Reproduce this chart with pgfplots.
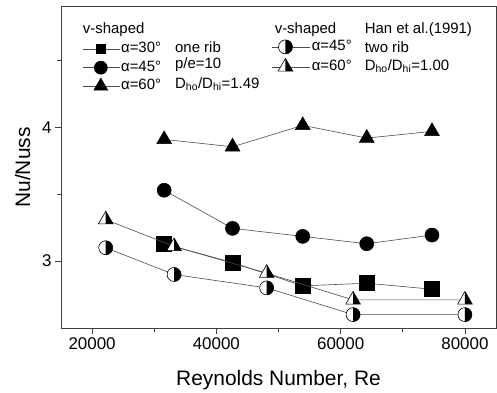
\documentclass[border=0pt]{standalone}
\usepackage{pgfplots}
\pgfplotsset{compat=1.18}
\usepackage{fontspec}
\setmainfont{Liberation Sans}

\pgfdeclareplotmark{halfcircleR}{%
  \begin{pgfscope}\pgfsetfillcolor{white}%
  \pgfpathcircle{\pgfpointorigin}{\pgfplotmarksize}\pgfusepathqfill
  \end{pgfscope}%
  \pgfpathmoveto{\pgfqpoint{0pt}{\pgfplotmarksize}}%
  \pgfpatharc{90}{-90}{\pgfplotmarksize}%
  \pgfpathclose\pgfusepathqfill
  \pgfpathcircle{\pgfpointorigin}{\pgfplotmarksize}\pgfusepathqstroke
}
\pgfdeclareplotmark{halftriangleR}{%
  \begin{pgfscope}\pgfsetfillcolor{white}%
  \pgfpathmoveto{\pgfqpoint{0pt}{\pgfplotmarksize}}%
  \pgfpathlineto{\pgfqpointpolar{210}{\pgfplotmarksize}}%
  \pgfpathlineto{\pgfqpointpolar{330}{\pgfplotmarksize}}%
  \pgfpathclose\pgfusepathqfill
  \end{pgfscope}%
  \pgfpathmoveto{\pgfqpoint{0pt}{\pgfplotmarksize}}%
  \pgfpathlineto{\pgfqpoint{0pt}{-.5\pgfplotmarksize}}%
  \pgfpathlineto{\pgfqpointpolar{330}{\pgfplotmarksize}}%
  \pgfpathclose\pgfusepathqfill
  \pgfpathmoveto{\pgfqpoint{0pt}{\pgfplotmarksize}}%
  \pgfpathlineto{\pgfqpointpolar{210}{\pgfplotmarksize}}%
  \pgfpathlineto{\pgfqpointpolar{330}{\pgfplotmarksize}}%
  \pgfpathclose\pgfusepathqstroke
}

\pgfplotsset{
  common/.style={
    scale only axis, width=435bp, height=321bp,
    xmin=15000, xmax=85000, ymin=2.5, ymax=4.9,
  },
  dataline/.style={color=black!70, line width=0.6bp, mark options={draw=black, fill=black, solid}},
}

\begin{document}
\begin{tikzpicture}
\begin{axis}[common, name=main,
  xtick={20000,40000,60000,80000}, minor xtick={30000,50000,70000},
  ytick={3,4}, minor ytick={3.5,4.5},
  xtick pos=bottom, ytick pos=left, tick align=outside,
  major tick length=6bp, minor tick length=4bp,
  axis line style={line width=1bp, black!75},
  every tick/.style={black!75, line width=0.8bp},
  scaled x ticks=false,
  xticklabel style={/pgf/number format/1000 sep={}},
  /pgf/number format/assume math mode=true,
  tick label style={font=\fontsize{17}{20}\selectfont},
  label style={font=\fontsize{21}{24}\selectfont},
  xlabel={Reynolds Number, Re}, ylabel={Nu/Nuss},
  xlabel style={at={(axis description cs:0.5,-0.162)}, anchor=center},
  ylabel style={at={(axis description cs:-0.088,0.5)}, anchor=center},
  legend style={draw=none, fill=none, at={(rel axis cs:0.049,0.898)}, anchor=north west,
    font=\fontsize{15}{18}\selectfont, inner sep=0pt, row sep=0pt,
    nodes={inner sep=1bp, text height=12bp, text depth=4.5bp}},
  legend cell align=left,
  legend image code/.code={\draw[mark repeat=2,mark phase=2] plot coordinates {(0bp,0bp) (18bp,0bp) (37bp,0bp)};},
]
% one rib, alpha=30
\addplot[dataline, mark=square*, mark size=7.5bp, forget plot] coordinates {
  (31500,3.13) (42600,2.99) (53900,2.815) (64200,2.835) (74700,2.79)};
% one rib, alpha=45
\addplot[dataline, mark=*, mark size=7bp, forget plot] coordinates {
  (31600,3.53) (42600,3.245) (53900,3.185) (64200,3.13) (74700,3.195)};
% one rib, alpha=60
\addplot[dataline, mark=triangle*, mark size=8.5bp, forget plot] coordinates {
  (31600,3.91) (42600,3.855) (53900,4.015) (64200,3.92) (74700,3.97)};
\addlegendimage{black!70, line width=0.6bp, mark=square*, mark size=4.5bp, mark options={draw=black, fill=black}}
\addlegendentry{α=30°}
\addlegendimage{black!70, line width=0.6bp, mark=*, mark size=6.5bp, mark options={draw=black, fill=black}}
\addlegendentry{α=45°}
\addlegendimage{black!70, line width=0.6bp, mark=triangle*, mark size=8bp, mark options={draw=black, fill=black}}
\addlegendentry{α=60°}
\node[anchor=west, font=\fontsize{15}{18}\selectfont, inner sep=0pt] at (rel axis cs:0.050,0.931) {v-shaped};
\node[anchor=west, font=\fontsize{15}{18}\selectfont, inner sep=0pt] at (rel axis cs:0.262,0.875) {one rib};
\node[anchor=west, font=\fontsize{15}{18}\selectfont, inner sep=0pt] at (rel axis cs:0.262,0.819) {p/e=10};
\node[anchor=west, font=\fontsize{15}{18}\selectfont, inner sep=0pt] at (rel axis cs:0.262,0.760) {D\textsubscript{ho}/D\textsubscript{hi}=1.49};
\node[anchor=west, font=\fontsize{15}{18}\selectfont, inner sep=0pt] at (rel axis cs:0.491,0.931) {v-shaped};
\node[anchor=west, font=\fontsize{15}{18}\selectfont, inner sep=0pt] at (rel axis cs:0.698,0.931) {Han et al.(1991)};
\node[anchor=west, font=\fontsize{15}{18}\selectfont, inner sep=0pt] at (rel axis cs:0.698,0.875) {two rib};
\node[anchor=west, font=\fontsize{15}{18}\selectfont, inner sep=0pt] at (rel axis cs:0.698,0.816) {D\textsubscript{ho}/D\textsubscript{hi}=1.00};
\end{axis}
\begin{axis}[common, hide axis,
  legend style={draw=none, fill=none, at={(rel axis cs:0.485,0.9075)}, anchor=north west,
    font=\fontsize{15}{18}\selectfont, inner sep=0pt, row sep=0pt,
    nodes={inner sep=1bp, text height=12.5bp, text depth=5.5bp}},
  legend cell align=left,
  legend image code/.code={\draw[mark repeat=2,mark phase=2] plot coordinates {(0bp,0bp) (13bp,0bp) (25bp,0bp)};\path (25bp,0bp) -- (38bp,0bp);},
]
% Han et al. (1991), two rib, alpha=45
\addplot[dataline, mark=halfcircleR, mark size=7bp] coordinates {
  (22200,3.10) (33200,2.90) (48100,2.80) (62000,2.60) (80000,2.60)};
\addlegendentry{α=45°}
% Han et al. (1991), two rib, alpha=60
\addplot[dataline, mark=halftriangleR, mark size=8.5bp] coordinates {
  (22200,3.31) (33200,3.11) (48100,2.91) (62000,2.71) (80000,2.71)};
\addlegendentry{α=60°}
\end{axis}
\pgfresetboundingbox
\path ([shift={(-61bp,-64bp)}]main.south west) rectangle ([shift={(1bp,7bp)}]main.north east);
\end{tikzpicture}
\end{document}
